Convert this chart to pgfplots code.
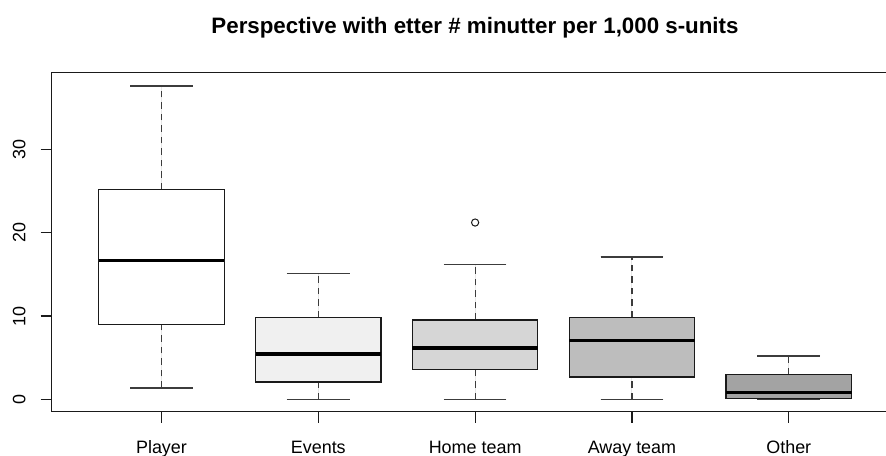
\documentclass[border=0pt]{standalone}
\usepackage{fontspec}
\setmainfont{Liberation Sans}
\usepackage{pgfplots}
\pgfplotsset{compat=1.18}
\usepgfplotslibrary{statistics}

\definecolor{gray94}{HTML}{F0F0F0}
\definecolor{gray84}{HTML}{D6D6D6}
\definecolor{gray74}{HTML}{BDBDBD}
\definecolor{gray64}{HTML}{A3A3A3}
\definecolor{edge}{HTML}{1A1A1A}

% R-style whiskers: dashed stem, solid cap half as wide as the box
\pgfplotsset{
  rbox/.style={
    boxplot/draw direction=y,
    boxplot/box extend=0.8,
    boxplot/every box/.style={draw=edge, line width=1.2bp},
    boxplot/every median/.style={draw=black, line width=3.6bp},
    boxplot/draw/lower whisker/.code={%
      \draw[edge!85, line width=1.1bp, dash pattern=on 6.5bp off 5bp]
        (boxplot box cs:\pgfplotsboxplotvalue{lower whisker},0.5) --
        (boxplot box cs:\pgfplotsboxplotvalue{lower quartile},0.5);
      \draw[edge!85, line width=1.2bp, solid]
        (boxplot box cs:\pgfplotsboxplotvalue{lower whisker},0.25) --
        (boxplot box cs:\pgfplotsboxplotvalue{lower whisker},0.75);
    },
    boxplot/draw/upper whisker/.code={%
      \draw[edge!85, line width=1.1bp, dash pattern=on 6.5bp off 5bp]
        (boxplot box cs:\pgfplotsboxplotvalue{upper quartile},0.5) --
        (boxplot box cs:\pgfplotsboxplotvalue{upper whisker},0.5);
      \draw[edge!85, line width=1.2bp, solid]
        (boxplot box cs:\pgfplotsboxplotvalue{upper whisker},0.25) --
        (boxplot box cs:\pgfplotsboxplotvalue{upper whisker},0.75);
    },
  },
}

\begin{document}
\begin{tikzpicture}
\begin{axis}[
  scale only axis,
  width=834.3bp, height=339.4bp,
  xmin=0.3, xmax=5.62,
  ymin=-1.5, ymax=39.3,
  separate axis lines,
  axis x line*=box,
  axis y line*=left,
  xtick pos=bottom,
  axis line style={edge, line width=1.1bp},
  every tick/.style={edge, line width=1.1bp},
  tick align=outside,
  major tick length=11bp,
  xtick={1,2,3,4,5},
  xticklabels={Player, Events, Home team, Away team, Other},
  ytick={0,10,20,30},
  /pgf/number format/assume math mode=true,
  tick label style={font=\fontsize{18}{21}\selectfont, text=black},
  yticklabel style={rotate=90, anchor=south, inner sep=0pt},
  yticklabel shift=15bp,
  xticklabel style={anchor=base, inner sep=0pt},
  xticklabel shift=31bp,
  title={Perspective with etter \# minutter per 1,000 s-units},
  title style={font=\bfseries\fontsize{22.4}{26}\selectfont,
    at={(axis description cs:0.5074,1)}, anchor=base, yshift=32.8bp},
  clip=false,
]
\addplot[rbox, fill=white, boxplot prepared={draw position=1,
  lower whisker=1.36, lower quartile=8.98, median=16.7,
  upper quartile=25.24, upper whisker=37.66}] coordinates {};
\addplot[rbox, fill=gray94, boxplot prepared={draw position=2,
  lower whisker=0, lower quartile=2.08, median=5.45,
  upper quartile=9.86, upper whisker=15.1}] coordinates {};
\addplot[rbox, fill=gray84, mark=o, mark size=3.6bp,
  mark options={draw=edge, line width=1bp, fill=white},
  boxplot prepared={draw position=3,
  lower whisker=0, lower quartile=3.57, median=6.17,
  upper quartile=9.53, upper whisker=16.15}] coordinates {(0,21.24)};
\addplot[rbox, fill=gray74, boxplot prepared={draw position=4,
  lower whisker=0, lower quartile=2.68, median=7.07,
  upper quartile=9.86, upper whisker=17.1}] coordinates {};
\addplot[rbox, fill=gray64, boxplot prepared={draw position=5,
  lower whisker=0, lower quartile=0.08, median=0.8,
  upper quartile=3.0, upper whisker=5.2}] coordinates {};
\end{axis}
\pgfresetboundingbox
\path ([shift={(-51.7bp,-44.3bp)}]current axis.south west)
  rectangle ([shift={(0bp,72.3bp)}]current axis.north east);
\end{tikzpicture}
\end{document}
